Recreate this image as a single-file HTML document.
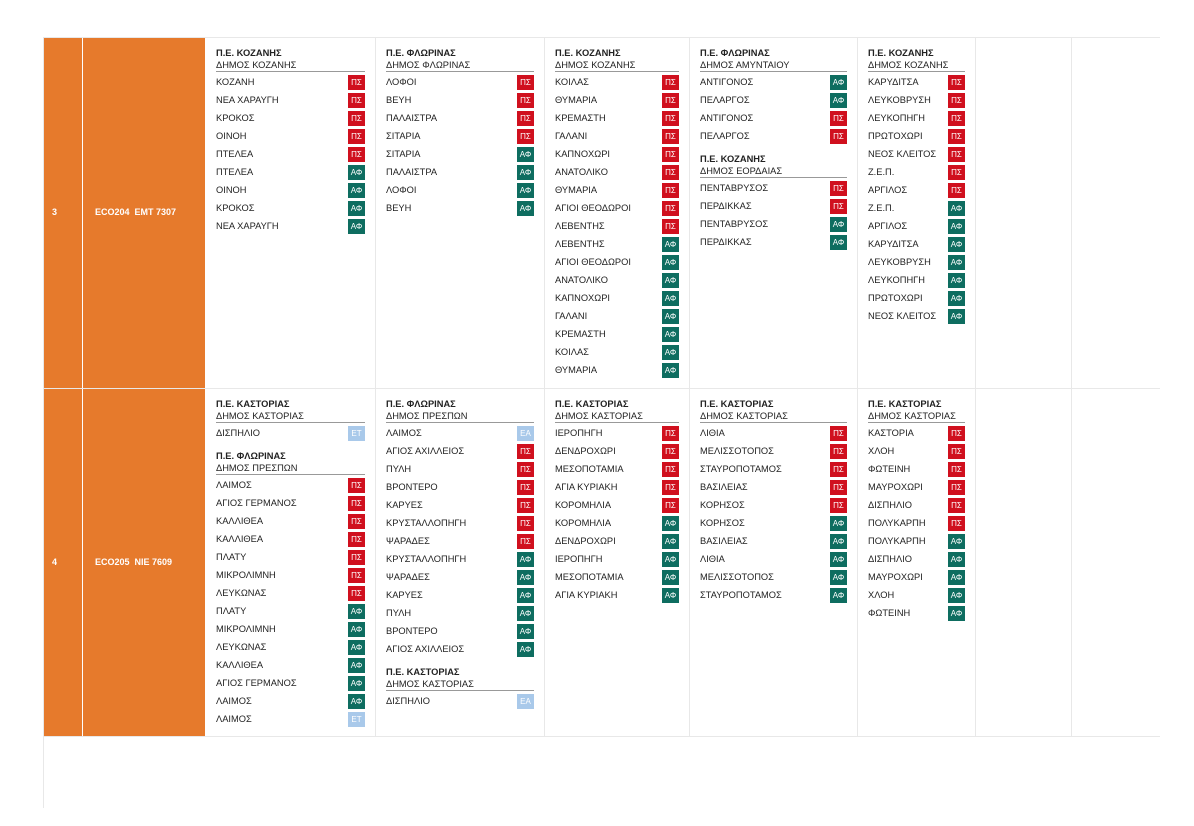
<!DOCTYPE html>
<html><head><meta charset="utf-8"><style>
body{margin:0;width:1194px;height:826px;background:#fff;font-family:"Liberation Sans","DejaVu Sans",sans-serif;position:relative;overflow:hidden}
.l{position:absolute;background:#e8e8e8}
.o{position:absolute;background:#e67a2c}
.w{position:absolute;color:#fff;font-weight:bold;font-size:9px}
.c{position:absolute;padding:10px 10px 0 11px;box-sizing:border-box;color:#222;font-size:9.3px}
.h{font-weight:bold;height:12px;line-height:12px}
.s{height:12px;line-height:12px;border-bottom:1.5px solid #999;margin-bottom:1px}
.h2{margin-top:8px}
.r{height:18px;display:flex;align-items:center;justify-content:space-between}
.b{width:17px;height:15px;line-height:15px;text-align:center;color:#fff;font-size:8px}
.p{background:#d0101e}.a{background:#0e6d60}.e{background:#a9c9ea}
</style></head><body>
<div class="l" style="left:43px;top:37px;width:1117px;height:1px"></div>
<div class="l" style="left:43px;top:388px;width:1117px;height:1px"></div>
<div class="l" style="left:43px;top:736px;width:1117px;height:1px"></div>
<div class="l" style="left:43px;top:37px;width:1px;height:771px"></div>
<div class="l" style="left:375px;top:37px;width:1px;height:700px"></div>
<div class="l" style="left:544px;top:37px;width:1px;height:700px"></div>
<div class="l" style="left:689px;top:37px;width:1px;height:700px"></div>
<div class="l" style="left:857px;top:37px;width:1px;height:700px"></div>
<div class="l" style="left:975px;top:37px;width:1px;height:700px"></div>
<div class="l" style="left:1071px;top:37px;width:1px;height:700px"></div>
<div class="o" style="left:44px;top:38px;width:38px;height:350px"></div>
<div class="o" style="left:83px;top:38px;width:122px;height:350px"></div>
<div class="o" style="left:44px;top:389px;width:38px;height:347px"></div>
<div class="o" style="left:83px;top:389px;width:122px;height:347px"></div>
<div class="w" style="left:52px;top:207px">3</div>
<div class="w" style="left:95px;top:207px">ECO204 &nbsp;EMT 7307</div>
<div class="w" style="left:52px;top:557px">4</div>
<div class="w" style="left:95px;top:557px">ECO205 &nbsp;NIE 7609</div>

<div class="c" style="left:205px;top:37px;width:170px">
<div class="h">Π.Ε. ΚΟΖΑΝΗΣ</div><div class="s">ΔΗΜΟΣ ΚΟΖΑΝΗΣ</div>
<div class="r">ΚΟΖΑΝΗ<span class="b p">ΠΣ</span></div>
<div class="r">ΝΕΑ ΧΑΡΑΥΓΗ<span class="b p">ΠΣ</span></div>
<div class="r">ΚΡΟΚΟΣ<span class="b p">ΠΣ</span></div>
<div class="r">ΟΙΝΟΗ<span class="b p">ΠΣ</span></div>
<div class="r">ΠΤΕΛΕΑ<span class="b p">ΠΣ</span></div>
<div class="r">ΠΤΕΛΕΑ<span class="b a">ΑΦ</span></div>
<div class="r">ΟΙΝΟΗ<span class="b a">ΑΦ</span></div>
<div class="r">ΚΡΟΚΟΣ<span class="b a">ΑΦ</span></div>
<div class="r">ΝΕΑ ΧΑΡΑΥΓΗ<span class="b a">ΑΦ</span></div>
</div>
<div class="c" style="left:375px;top:37px;width:169px">
<div class="h">Π.Ε. ΦΛΩΡΙΝΑΣ</div><div class="s">ΔΗΜΟΣ ΦΛΩΡΙΝΑΣ</div>
<div class="r">ΛΟΦΟΙ<span class="b p">ΠΣ</span></div>
<div class="r">ΒΕΥΗ<span class="b p">ΠΣ</span></div>
<div class="r">ΠΑΛΑΙΣΤΡΑ<span class="b p">ΠΣ</span></div>
<div class="r">ΣΙΤΑΡΙΑ<span class="b p">ΠΣ</span></div>
<div class="r">ΣΙΤΑΡΙΑ<span class="b a">ΑΦ</span></div>
<div class="r">ΠΑΛΑΙΣΤΡΑ<span class="b a">ΑΦ</span></div>
<div class="r">ΛΟΦΟΙ<span class="b a">ΑΦ</span></div>
<div class="r">ΒΕΥΗ<span class="b a">ΑΦ</span></div>
</div>
<div class="c" style="left:544px;top:37px;width:145px">
<div class="h">Π.Ε. ΚΟΖΑΝΗΣ</div><div class="s">ΔΗΜΟΣ ΚΟΖΑΝΗΣ</div>
<div class="r">ΚΟΙΛΑΣ<span class="b p">ΠΣ</span></div>
<div class="r">ΘΥΜΑΡΙΑ<span class="b p">ΠΣ</span></div>
<div class="r">ΚΡΕΜΑΣΤΗ<span class="b p">ΠΣ</span></div>
<div class="r">ΓΑΛΑΝΙ<span class="b p">ΠΣ</span></div>
<div class="r">ΚΑΠΝΟΧΩΡΙ<span class="b p">ΠΣ</span></div>
<div class="r">ΑΝΑΤΟΛΙΚΟ<span class="b p">ΠΣ</span></div>
<div class="r">ΘΥΜΑΡΙΑ<span class="b p">ΠΣ</span></div>
<div class="r">ΑΓΙΟΙ ΘΕΟΔΩΡΟΙ<span class="b p">ΠΣ</span></div>
<div class="r">ΛΕΒΕΝΤΗΣ<span class="b p">ΠΣ</span></div>
<div class="r">ΛΕΒΕΝΤΗΣ<span class="b a">ΑΦ</span></div>
<div class="r">ΑΓΙΟΙ ΘΕΟΔΩΡΟΙ<span class="b a">ΑΦ</span></div>
<div class="r">ΑΝΑΤΟΛΙΚΟ<span class="b a">ΑΦ</span></div>
<div class="r">ΚΑΠΝΟΧΩΡΙ<span class="b a">ΑΦ</span></div>
<div class="r">ΓΑΛΑΝΙ<span class="b a">ΑΦ</span></div>
<div class="r">ΚΡΕΜΑΣΤΗ<span class="b a">ΑΦ</span></div>
<div class="r">ΚΟΙΛΑΣ<span class="b a">ΑΦ</span></div>
<div class="r">ΘΥΜΑΡΙΑ<span class="b a">ΑΦ</span></div>
</div>
<div class="c" style="left:689px;top:37px;width:168px">
<div class="h">Π.Ε. ΦΛΩΡΙΝΑΣ</div><div class="s">ΔΗΜΟΣ ΑΜΥΝΤΑΙΟΥ</div>
<div class="r">ΑΝΤΙΓΟΝΟΣ<span class="b a">ΑΦ</span></div>
<div class="r">ΠΕΛΑΡΓΟΣ<span class="b a">ΑΦ</span></div>
<div class="r">ΑΝΤΙΓΟΝΟΣ<span class="b p">ΠΣ</span></div>
<div class="r">ΠΕΛΑΡΓΟΣ<span class="b p">ΠΣ</span></div>
<div class="h h2">Π.Ε. ΚΟΖΑΝΗΣ</div><div class="s">ΔΗΜΟΣ ΕΟΡΔΑΙΑΣ</div>
<div class="r">ΠΕΝΤΑΒΡΥΣΟΣ<span class="b p">ΠΣ</span></div>
<div class="r">ΠΕΡΔΙΚΚΑΣ<span class="b p">ΠΣ</span></div>
<div class="r">ΠΕΝΤΑΒΡΥΣΟΣ<span class="b a">ΑΦ</span></div>
<div class="r">ΠΕΡΔΙΚΚΑΣ<span class="b a">ΑΦ</span></div>
</div>
<div class="c" style="left:857px;top:37px;width:118px">
<div class="h">Π.Ε. ΚΟΖΑΝΗΣ</div><div class="s">ΔΗΜΟΣ ΚΟΖΑΝΗΣ</div>
<div class="r">ΚΑΡΥΔΙΤΣΑ<span class="b p">ΠΣ</span></div>
<div class="r">ΛΕΥΚΟΒΡΥΣΗ<span class="b p">ΠΣ</span></div>
<div class="r">ΛΕΥΚΟΠΗΓΗ<span class="b p">ΠΣ</span></div>
<div class="r">ΠΡΩΤΟΧΩΡΙ<span class="b p">ΠΣ</span></div>
<div class="r">ΝΕΟΣ ΚΛΕΙΤΟΣ<span class="b p">ΠΣ</span></div>
<div class="r">Ζ.Ε.Π.<span class="b p">ΠΣ</span></div>
<div class="r">ΑΡΓΙΛΟΣ<span class="b p">ΠΣ</span></div>
<div class="r">Ζ.Ε.Π.<span class="b a">ΑΦ</span></div>
<div class="r">ΑΡΓΙΛΟΣ<span class="b a">ΑΦ</span></div>
<div class="r">ΚΑΡΥΔΙΤΣΑ<span class="b a">ΑΦ</span></div>
<div class="r">ΛΕΥΚΟΒΡΥΣΗ<span class="b a">ΑΦ</span></div>
<div class="r">ΛΕΥΚΟΠΗΓΗ<span class="b a">ΑΦ</span></div>
<div class="r">ΠΡΩΤΟΧΩΡΙ<span class="b a">ΑΦ</span></div>
<div class="r">ΝΕΟΣ ΚΛΕΙΤΟΣ<span class="b a">ΑΦ</span></div>
</div>

<div class="c" style="left:205px;top:388px;width:170px">
<div class="h">Π.Ε. ΚΑΣΤΟΡΙΑΣ</div><div class="s">ΔΗΜΟΣ ΚΑΣΤΟΡΙΑΣ</div>
<div class="r">ΔΙΣΠΗΛΙΟ<span class="b e">ΕΤ</span></div>
<div class="h h2">Π.Ε. ΦΛΩΡΙΝΑΣ</div><div class="s">ΔΗΜΟΣ ΠΡΕΣΠΩΝ</div>
<div class="r">ΛΑΙΜΟΣ<span class="b p">ΠΣ</span></div>
<div class="r">ΑΓΙΟΣ ΓΕΡΜΑΝΟΣ<span class="b p">ΠΣ</span></div>
<div class="r">ΚΑΛΛΙΘΕΑ<span class="b p">ΠΣ</span></div>
<div class="r">ΚΑΛΛΙΘΕΑ<span class="b p">ΠΣ</span></div>
<div class="r">ΠΛΑΤΥ<span class="b p">ΠΣ</span></div>
<div class="r">ΜΙΚΡΟΛΙΜΝΗ<span class="b p">ΠΣ</span></div>
<div class="r">ΛΕΥΚΩΝΑΣ<span class="b p">ΠΣ</span></div>
<div class="r">ΠΛΑΤΥ<span class="b a">ΑΦ</span></div>
<div class="r">ΜΙΚΡΟΛΙΜΝΗ<span class="b a">ΑΦ</span></div>
<div class="r">ΛΕΥΚΩΝΑΣ<span class="b a">ΑΦ</span></div>
<div class="r">ΚΑΛΛΙΘΕΑ<span class="b a">ΑΦ</span></div>
<div class="r">ΑΓΙΟΣ ΓΕΡΜΑΝΟΣ<span class="b a">ΑΦ</span></div>
<div class="r">ΛΑΙΜΟΣ<span class="b a">ΑΦ</span></div>
<div class="r">ΛΑΙΜΟΣ<span class="b e">ΕΤ</span></div>
</div>
<div class="c" style="left:375px;top:388px;width:169px">
<div class="h">Π.Ε. ΦΛΩΡΙΝΑΣ</div><div class="s">ΔΗΜΟΣ ΠΡΕΣΠΩΝ</div>
<div class="r">ΛΑΙΜΟΣ<span class="b e">ΕΑ</span></div>
<div class="r">ΑΓΙΟΣ ΑΧΙΛΛΕΙΟΣ<span class="b p">ΠΣ</span></div>
<div class="r">ΠΥΛΗ<span class="b p">ΠΣ</span></div>
<div class="r">ΒΡΟΝΤΕΡΟ<span class="b p">ΠΣ</span></div>
<div class="r">ΚΑΡΥΕΣ<span class="b p">ΠΣ</span></div>
<div class="r">ΚΡΥΣΤΑΛΛΟΠΗΓΗ<span class="b p">ΠΣ</span></div>
<div class="r">ΨΑΡΑΔΕΣ<span class="b p">ΠΣ</span></div>
<div class="r">ΚΡΥΣΤΑΛΛΟΠΗΓΗ<span class="b a">ΑΦ</span></div>
<div class="r">ΨΑΡΑΔΕΣ<span class="b a">ΑΦ</span></div>
<div class="r">ΚΑΡΥΕΣ<span class="b a">ΑΦ</span></div>
<div class="r">ΠΥΛΗ<span class="b a">ΑΦ</span></div>
<div class="r">ΒΡΟΝΤΕΡΟ<span class="b a">ΑΦ</span></div>
<div class="r">ΑΓΙΟΣ ΑΧΙΛΛΕΙΟΣ<span class="b a">ΑΦ</span></div>
<div class="h h2">Π.Ε. ΚΑΣΤΟΡΙΑΣ</div><div class="s">ΔΗΜΟΣ ΚΑΣΤΟΡΙΑΣ</div>
<div class="r">ΔΙΣΠΗΛΙΟ<span class="b e">ΕΑ</span></div>
</div>
<div class="c" style="left:544px;top:388px;width:145px">
<div class="h">Π.Ε. ΚΑΣΤΟΡΙΑΣ</div><div class="s">ΔΗΜΟΣ ΚΑΣΤΟΡΙΑΣ</div>
<div class="r">ΙΕΡΟΠΗΓΗ<span class="b p">ΠΣ</span></div>
<div class="r">ΔΕΝΔΡΟΧΩΡΙ<span class="b p">ΠΣ</span></div>
<div class="r">ΜΕΣΟΠΟΤΑΜΙΑ<span class="b p">ΠΣ</span></div>
<div class="r">ΑΓΙΑ ΚΥΡΙΑΚΗ<span class="b p">ΠΣ</span></div>
<div class="r">ΚΟΡΟΜΗΛΙΑ<span class="b p">ΠΣ</span></div>
<div class="r">ΚΟΡΟΜΗΛΙΑ<span class="b a">ΑΦ</span></div>
<div class="r">ΔΕΝΔΡΟΧΩΡΙ<span class="b a">ΑΦ</span></div>
<div class="r">ΙΕΡΟΠΗΓΗ<span class="b a">ΑΦ</span></div>
<div class="r">ΜΕΣΟΠΟΤΑΜΙΑ<span class="b a">ΑΦ</span></div>
<div class="r">ΑΓΙΑ ΚΥΡΙΑΚΗ<span class="b a">ΑΦ</span></div>
</div>
<div class="c" style="left:689px;top:388px;width:168px">
<div class="h">Π.Ε. ΚΑΣΤΟΡΙΑΣ</div><div class="s">ΔΗΜΟΣ ΚΑΣΤΟΡΙΑΣ</div>
<div class="r">ΛΙΘΙΑ<span class="b p">ΠΣ</span></div>
<div class="r">ΜΕΛΙΣΣΟΤΟΠΟΣ<span class="b p">ΠΣ</span></div>
<div class="r">ΣΤΑΥΡΟΠΟΤΑΜΟΣ<span class="b p">ΠΣ</span></div>
<div class="r">ΒΑΣΙΛΕΙΑΣ<span class="b p">ΠΣ</span></div>
<div class="r">ΚΟΡΗΣΟΣ<span class="b p">ΠΣ</span></div>
<div class="r">ΚΟΡΗΣΟΣ<span class="b a">ΑΦ</span></div>
<div class="r">ΒΑΣΙΛΕΙΑΣ<span class="b a">ΑΦ</span></div>
<div class="r">ΛΙΘΙΑ<span class="b a">ΑΦ</span></div>
<div class="r">ΜΕΛΙΣΣΟΤΟΠΟΣ<span class="b a">ΑΦ</span></div>
<div class="r">ΣΤΑΥΡΟΠΟΤΑΜΟΣ<span class="b a">ΑΦ</span></div>
</div>
<div class="c" style="left:857px;top:388px;width:118px">
<div class="h">Π.Ε. ΚΑΣΤΟΡΙΑΣ</div><div class="s">ΔΗΜΟΣ ΚΑΣΤΟΡΙΑΣ</div>
<div class="r">ΚΑΣΤΟΡΙΑ<span class="b p">ΠΣ</span></div>
<div class="r">ΧΛΟΗ<span class="b p">ΠΣ</span></div>
<div class="r">ΦΩΤΕΙΝΗ<span class="b p">ΠΣ</span></div>
<div class="r">ΜΑΥΡΟΧΩΡΙ<span class="b p">ΠΣ</span></div>
<div class="r">ΔΙΣΠΗΛΙΟ<span class="b p">ΠΣ</span></div>
<div class="r">ΠΟΛΥΚΑΡΠΗ<span class="b p">ΠΣ</span></div>
<div class="r">ΠΟΛΥΚΑΡΠΗ<span class="b a">ΑΦ</span></div>
<div class="r">ΔΙΣΠΗΛΙΟ<span class="b a">ΑΦ</span></div>
<div class="r">ΜΑΥΡΟΧΩΡΙ<span class="b a">ΑΦ</span></div>
<div class="r">ΧΛΟΗ<span class="b a">ΑΦ</span></div>
<div class="r">ΦΩΤΕΙΝΗ<span class="b a">ΑΦ</span></div>
</div>
</body></html>
